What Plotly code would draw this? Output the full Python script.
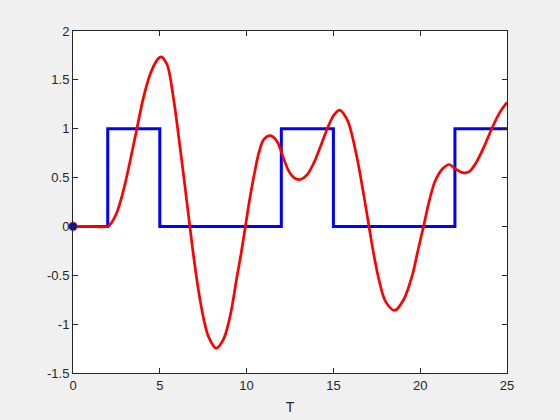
import plotly.graph_objects as go

# input: square pulse train (switch times / levels)
step_t = [0, 2, 5, 12, 15, 22, 25]
step_u = [0, 1, 0, 1, 0, 1, 1]

# response
resp_t = [0, 1.0, 2.0, 2.14, 2.52, 2.91, 3.29, 3.68, 4.06, 4.45, 4.83, 5.06,
          5.41, 5.79, 6.18, 6.47, 6.73, 6.95, 7.24, 7.52, 7.81, 8.24, 8.68,
          9.06, 9.45, 9.70, 9.93, 10.17, 10.48, 10.70, 10.99, 11.37, 11.76,
          12.05, 12.43, 12.72, 13.07, 13.49, 13.87, 14.26, 14.74, 15.03, 15.36,
          15.80, 15.99, 16.38, 16.76, 17.05, 17.34, 17.63, 18.01, 18.53, 19.07,
          19.56, 19.84, 20.19, 20.52, 20.85, 21.29, 21.67, 22.02, 22.44, 22.82,
          23.21, 23.69, 24.12, 24.56, 25.0]
resp_y = [0, 0, 0, 0.02, 0.14, 0.37, 0.67, 1.0, 1.32, 1.56, 1.70, 1.735,
          1.66, 1.31, 0.79, 0.38, 0.0, -0.31, -0.67, -0.94, -1.13, -1.245, -1.15,
          -0.91, -0.51, -0.26, 0.0, 0.27, 0.57, 0.75, 0.89, 0.93, 0.87,
          0.735, 0.566, 0.50, 0.48, 0.53, 0.65, 0.82, 1.04, 1.14, 1.19,
          1.09, 0.99, 0.685, 0.31, 0.0, -0.30, -0.55, -0.77, -0.86, -0.74,
          -0.49, -0.27, 0.0, 0.26, 0.46, 0.59, 0.634, 0.59, 0.55, 0.56,
          0.65, 0.82, 1.0, 1.16, 1.27]

y_ticks = [-1.5, -1, -0.5, 0, 0.5, 1, 1.5, 2]
y_labels = ["-1.5", "-1", "-0.5", "0", "0.5", "1", "1.5", "2"]
x_ticks = [0, 5, 10, 15, 20, 25]

axis_col = "#262626"

fig = go.Figure()
fig.add_trace(go.Scatter(x=step_t, y=step_u, mode="lines", line_shape="hv",
                         line=dict(color="#0000ff", width=3), showlegend=False))
fig.add_trace(go.Scatter(x=resp_t, y=resp_y, mode="lines", line_shape="spline",
                         line=dict(color="#ff0000", width=2.7, smoothing=0.9),
                         showlegend=False))
fig.add_trace(go.Scatter(x=[step_t[0]], y=[step_u[0]], mode="markers",
                         marker=dict(color="#0000ff", size=9,
                                     line=dict(color="#e8774a", width=1)),
                         showlegend=False, cliponaxis=False))

fig.update_layout(
    width=560, height=420,
    margin=dict(l=73, r=53, t=31, b=47),
    paper_bgcolor="#f0f0f0", plot_bgcolor="#ffffff",
    font=dict(family="Liberation Sans, Arial, sans-serif", size=13, color=axis_col),
)
fig.update_xaxes(range=[0, 25], tickvals=x_ticks, showgrid=False, zeroline=False,
                 showline=True, linecolor=axis_col, linewidth=1, mirror="ticks",
                 ticks="inside", ticklen=5, tickcolor=axis_col, automargin=False,
                 title=dict(text="T", standoff=10, font=dict(size=14)))
fig.update_yaxes(range=[-1.5, 2], tickvals=y_ticks, ticktext=y_labels,
                 showgrid=False, zeroline=False, automargin=False,
                 showline=True, linecolor=axis_col, linewidth=1, mirror="ticks",
                 ticks="inside", ticklen=5, tickcolor=axis_col)

# drop the page's default body margin so the figure sits at the window corner
fig.write_html("out.html", config={"displayModeBar": False},
               post_script="document.body.style.margin='0';"
                           "document.body.style.background='#f0f0f0';")
